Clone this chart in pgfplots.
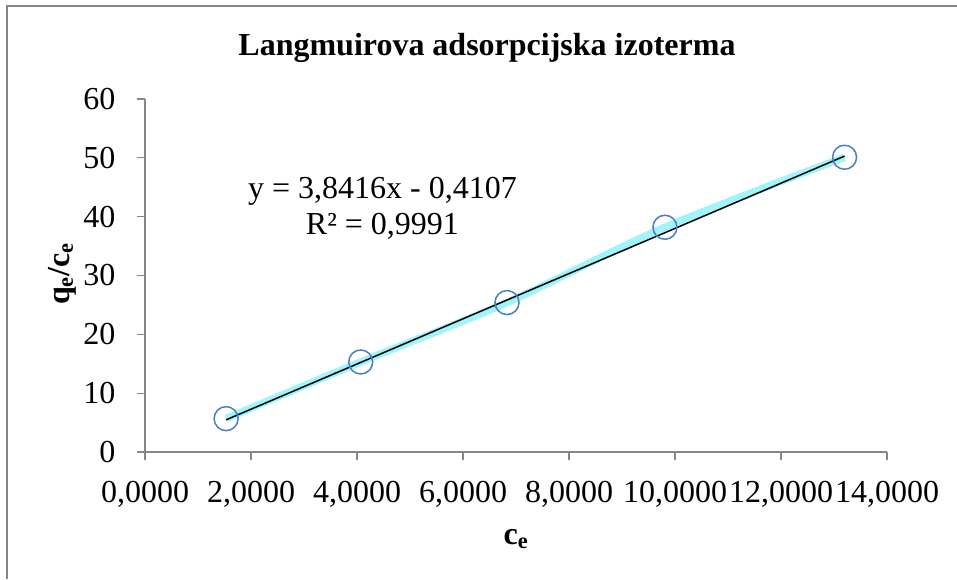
\documentclass[border=0pt]{standalone}
\usepackage{fontspec}
\setmainfont{Liberation Serif}
\usepackage{pgfplots}
\pgfplotsset{compat=1.18}
\definecolor{axgray}{RGB}{134,134,134}
\definecolor{mblue}{RGB}{74,126,193}
\definecolor{lcyan}{RGB}{160,244,250}
\begin{document}
\begin{tikzpicture}
\useasboundingbox (0,0) rectangle (957pt,579pt);
\draw[axgray, line width=2pt] (7pt,0pt) -- (7pt,573pt) -- (957pt,573pt);
\node[font=\fontsize{32}{38}\selectfont\bfseries] at (487pt,531pt) {Langmuirova adsorpcijska izoterma};
\begin{axis}[
  at={(145pt,127pt)}, anchor=south west,
  scale only axis, width=742pt, height=353pt,
  xmin=0, xmax=14, ymin=0, ymax=60,
  xtick={0,2,4,6,8,10,12,14},
  xticklabels={{0,0000},{2,0000},{4,0000},{6,0000},{8,0000},{10,0000},{12,0000},{14,0000}},
  ytick={0,10,20,30,40,50,60},
  axis lines*=left,
  axis line style={axgray, line width=1.3pt},
  tick style={axgray, line width=1.3pt},
  tick align=outside, major tick length=8pt,
  /pgf/number format/assume math mode=true,
  tick label style={font=\fontsize{32}{38}\selectfont, black},
  xticklabel style={yshift=-18pt},
  yticklabel style={xshift=-18pt},
  clip=false,
]
\addplot[lcyan, line width=7.5pt, smooth, tension=0.5] coordinates {
  (1.53,5.67) (4.07,15.3) (6.83,25.4) (9.81,38.2) (13.20,50.1)
};
\addplot[black, line width=1.5pt] coordinates {
  (1.53,5.47) (13.20,50.30)
};
\addplot[only marks, mark=o, mark size=12pt, mark options={mblue, line width=1.5pt}] coordinates {
  (1.53,5.67) (4.07,15.3) (6.83,25.4) (9.81,38.2) (13.20,50.1)
};
\node[align=center, font=\fontsize{32}{36}\selectfont] at (axis cs:4.48,41.5) {y = 3,8416x - 0,4107\\R² = 0,9991};
\end{axis}
\node[font=\fontsize{32}{38}\selectfont\bfseries] at (516pt,40pt) {c\textsubscript{e}};
\node[rotate=90, font=\fontsize{32}{38}\selectfont\bfseries] at (62pt,305pt) {q\textsubscript{e}/c\textsubscript{e}};
\end{tikzpicture}
\end{document}
